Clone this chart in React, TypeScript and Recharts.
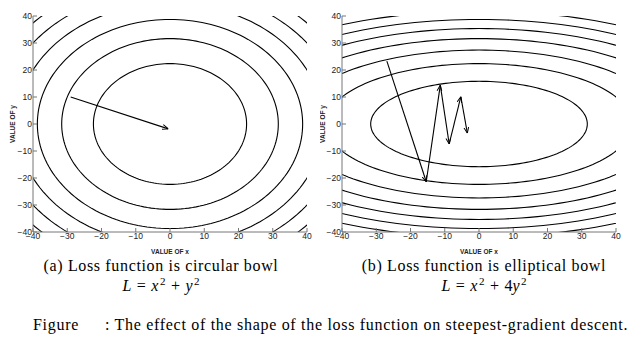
import React from 'react';
import { LineChart, Line, XAxis, YAxis, Label } from 'recharts';

// ---- data ----
const TICKS = [-40, -30, -20, -10, 0, 10, 20, 30, 40];
const DOMAIN: [number, number] = [-40, 40];

// contour levels of L
const CIRCLE_LEVELS = [500, 1000, 1500, 2000, 2500, 3000];
const ELLIPSE_LEVELS = [1000, 2000, 3000, 4000, 5000, 6000, 7000];
// y coefficient of each loss function (L = x^2 + k y^2)
const CIRCLE_K = 1;
const ELLIPSE_K = 4;

// descent paths (x, y)
const CIRCLE_PATH_X = [-29, -0.5];
const CIRCLE_PATH_Y = [10, -1.8];
const ELLIPSE_PATH_X = [-26.9, -15.4, -11.3, -8.7, -5.3, -3.4];
const ELLIPSE_PATH_Y = [23.3, -21.4, 14.4, -7.4, 10.1, -3.4];

// ---- helpers ----
const contour = (L: number, k: number) => {
  const a = Math.sqrt(L);
  const b = Math.sqrt(L / k);
  const pts: { x: number; y: number }[] = [];
  const n = 180;
  for (let i = 0; i <= n; i++) {
    const t = (i / n) * Math.PI * 2;
    pts.push({ x: a * Math.cos(t), y: b * Math.sin(t) });
  }
  return pts;
};

const segments = (xs: number[], ys: number[]) => {
  const segs: { x: number; y: number }[][] = [];
  for (let i = 0; i < xs.length - 1; i++) {
    segs.push([
      { x: xs[i], y: ys[i] },
      { x: xs[i + 1], y: ys[i + 1] },
    ]);
  }
  return segs;
};

const fmt = (v: number) => (v < 0 ? '\u2212' + Math.abs(v) : String(v));

const AXIS_COLOR = '#777';
const TICK_STYLE = { fontSize: 8.5, fill: '#222', fontFamily: 'Liberation Sans, Arial, sans-serif' };
const LABEL_STYLE: React.CSSProperties = {
  fontSize: 6.5,
  fontWeight: 700,
  fill: '#222',
  fontFamily: 'Liberation Sans, Arial, sans-serif',
};

const Empty = () => <g />;

interface PlotProps {
  levels: number[];
  k: number;
  px: number[];
  py: number[];
  left: number;
  marginLeft: number;
  yWidth: number;
  marginRight: number;
  yLabelDx: number;
}

const Plot = ({ levels, k, px, py, left, marginLeft, yWidth, marginRight, yLabelDx }: PlotProps) => (
  <div style={{ position: 'absolute', left, top: 0 }}>
    <LineChart
      width={320}
      height={262}
      margin={{ top: 16, right: marginRight, bottom: 10, left: marginLeft }}
    >
      <XAxis
        xAxisId="b"
        type="number"
        dataKey="x"
        domain={DOMAIN}
        ticks={TICKS}
        allowDataOverflow
        orientation="bottom"
        height={20}
        tickSize={-4}
        tickMargin={5}
        tickFormatter={fmt}
        tick={TICK_STYLE}
        stroke={AXIS_COLOR}
        interval={0}
      >
        <Label
          content={(p: any) => {
            const vb = p.viewBox;
            return (
              <text
                x={vb.x + vb.width / 2}
                y={vb.y + 20}
                textAnchor="middle"
                dominantBaseline="middle"
                style={LABEL_STYLE}
              >
                VALUE OF x
              </text>
            );
          }}
        />
      </XAxis>
      <XAxis
        xAxisId="t"
        type="number"
        dataKey="x"
        domain={DOMAIN}
        ticks={TICKS}
        allowDataOverflow
        orientation="top"
        height={0}
        tickSize={-4}
        tick={<Empty />}
        stroke={AXIS_COLOR}
        interval={0}
      />
      <YAxis
        yAxisId="l"
        type="number"
        dataKey="y"
        domain={DOMAIN}
        ticks={TICKS}
        allowDataOverflow
        orientation="left"
        width={yWidth}
        tickSize={-4}
        tickMargin={5}
        tickFormatter={fmt}
        tick={TICK_STYLE}
        stroke={AXIS_COLOR}
        interval={0}
      >
        <Label
          content={(p: any) => {
            const vb = p.viewBox;
            const cx = vb.x + yLabelDx;
            const cy = vb.y + vb.height / 2;
            return (
              <text
                x={cx}
                y={cy}
                textAnchor="middle"
                dominantBaseline="middle"
                transform={`rotate(-90 ${cx} ${cy})`}
                style={LABEL_STYLE}
              >
                VALUE OF y
              </text>
            );
          }}
        />
      </YAxis>
      <YAxis
        yAxisId="r"
        type="number"
        dataKey="y"
        domain={DOMAIN}
        ticks={TICKS}
        allowDataOverflow
        orientation="right"
        width={0}
        tickSize={-4}
        tick={<Empty />}
        stroke={AXIS_COLOR}
        interval={0}
      />
      {levels.map((L) => (
        <Line
          key={'c' + L}
          xAxisId="b"
          yAxisId="l"
          data={contour(L, k)}
          dataKey="y"
          type="linear"
          stroke="#000"
          strokeWidth={1.1}
          dot={false}
          activeDot={false}
          isAnimationActive={false}
        />
      ))}
      {segments(px, py).map((s, i) => (
        <Line
          key={'s' + i}
          xAxisId="b"
          yAxisId="l"
          data={s}
          dataKey="y"
          type="linear"
          stroke="#000"
          strokeWidth={1.1}
          dot={false}
          activeDot={false}
          markerEnd="url(#arrowhead)"
          isAnimationActive={false}
        />
      ))}
    </LineChart>
  </div>
);

const serif = '"Liberation Serif", "Times New Roman", serif';
const op: React.CSSProperties = { padding: '0 5.5px' };
const sup: React.CSSProperties = { fontSize: 11, lineHeight: 0, paddingLeft: 1.5 };
const cap: React.CSSProperties = {
  position: 'absolute',
  textAlign: 'center',
  fontSize: 16,
  lineHeight: '18px',
  letterSpacing: '0.65px',
  whiteSpace: 'pre',
};

export default function App() {
  return (
    <div
      style={{
        position: 'absolute',
        left: 0,
        top: 0,
        width: 640,
        height: 349,
        background: '#fff',
        overflow: 'hidden',
        fontFamily: serif,
        color: '#000',
      }}
    >
      <svg width={0} height={0} style={{ position: 'absolute' }}>
        <defs>
          <marker
            id="arrowhead"
            viewBox="0 0 10 10"
            refX={10}
            refY={5}
            markerWidth={6}
            markerHeight={6}
            markerUnits="userSpaceOnUse"
            orient="auto"
          >
            <path d="M0,1 L10,5 L0,9" fill="none" stroke="#000" strokeWidth={1.6} />
          </marker>
        </defs>
      </svg>
      <Plot
        levels={CIRCLE_LEVELS}
        k={CIRCLE_K}
        px={CIRCLE_PATH_X}
        py={CIRCLE_PATH_Y}
        left={0}
        marginLeft={8}
        yWidth={25}
        marginRight={13}
        yLabelDx={5.5}
      />
      <Plot
        levels={ELLIPSE_LEVELS}
        k={ELLIPSE_K}
        px={ELLIPSE_PATH_X}
        py={ELLIPSE_PATH_Y}
        left={320}
        marginLeft={2}
        yWidth={20}
        marginRight={24}
        yLabelDx={1.5}
      />
      <div style={{ ...cap, left: 0, width: 322, top: 257 }}>
        (a) Loss function is circular bowl
      </div>
      <div style={{ ...cap, left: 0, width: 322, top: 277, letterSpacing: 0 }}>
        <i>L</i><span style={op}>=</span><i>x</i><sup style={sup}>2</sup><span style={op}>+</span><i>y</i><sup style={sup}>2</sup>
      </div>
      <div style={{ ...cap, left: 326, width: 316, top: 257 }}>
        (b) Loss function is elliptical bowl
      </div>
      <div style={{ ...cap, left: 326, width: 316, top: 277, letterSpacing: 0 }}>
        <i>L</i><span style={op}>=</span><i>x</i><sup style={sup}>2</sup><span style={op}>+</span>4<i>y</i><sup style={sup}>2</sup>
      </div>
      <div style={{ ...cap, textAlign: 'left', left: 33, top: 316, letterSpacing: '0.7px' }}>
        Figure
      </div>
      <div style={{ ...cap, textAlign: 'left', left: 105, top: 316, letterSpacing: '0.7px' }}>
        : The effect of the shape of the loss function on steepest-gradient descent.
      </div>
    </div>
  );
}
